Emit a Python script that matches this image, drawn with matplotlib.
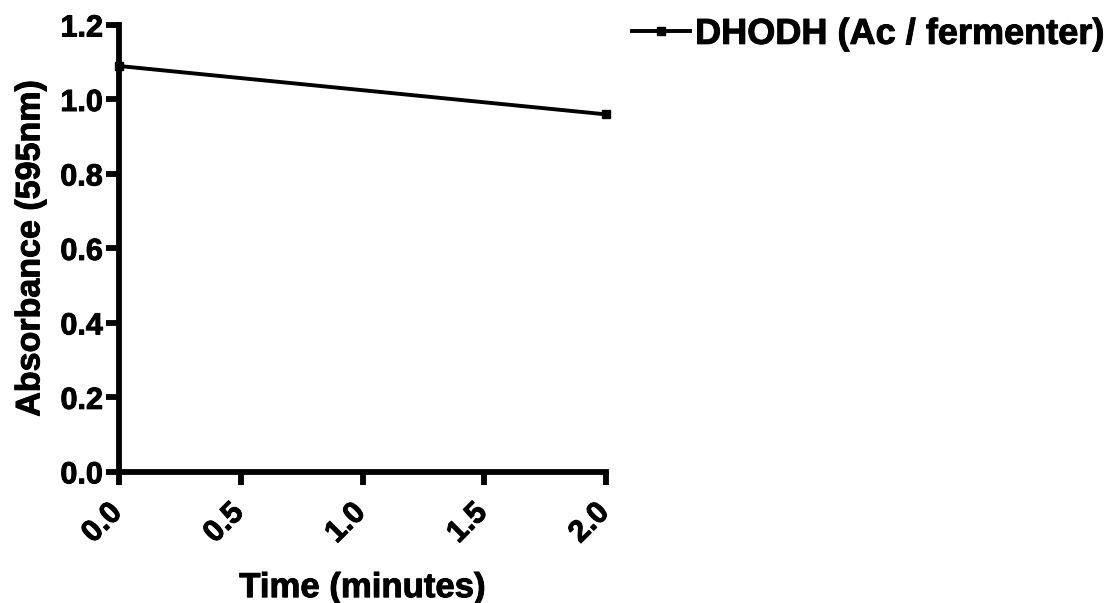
import matplotlib
matplotlib.use("Agg")
import matplotlib.pyplot as plt
import matplotlib.transforms as mtransforms
import matplotlib.patheffects as pe

# Absorbance readings over time
time_min = [0.0, 2.0]
absorbance = [1.09, 0.96]
series_label = "DHODH (Ac / fermenter)"
x_ticks = [0.0, 0.5, 1.0, 1.5, 2.0]
y_ticks = [0.0, 0.2, 0.4, 0.6, 0.8, 1.0, 1.2]

plt.rcParams["font.family"] = ["Liberation Sans", "DejaVu Sans"]
plt.rcParams["font.weight"] = "bold"

heavy = [pe.withStroke(linewidth=0.7, foreground="black")]

fig = plt.figure(figsize=(11.13, 6.03), dpi=100)
ax = fig.add_axes([0.1069, 0.2175, 0.4376, 0.7410])

ax.plot(time_min, absorbance, color="black", lw=2.8, marker="s",
        markersize=6, label=series_label, clip_on=False, zorder=5)

ax.set_xlim(0, 2.0)
ax.set_ylim(0, 1.2)
ax.set_xticks(x_ticks)
ax.set_yticks(y_ticks)
ax.set_xticklabels([f"{v:.1f}" for v in x_ticks], rotation=45,
                   ha="right", va="top", rotation_mode="anchor")
ax.set_yticklabels([f"{v:.1f}" for v in y_ticks])

for side in ("top", "right"):
    ax.spines[side].set_visible(False)
for side in ("left", "bottom"):
    ax.spines[side].set_linewidth(4.2)
    ax.spines[side].set_capstyle("projecting")

ax.tick_params(axis="both", direction="out", length=9.5, width=4.2,
               labelsize=22, pad=2)
ax.tick_params(axis="x", pad=9)

# shift rotated x tick labels so they sit left-under each tick
shift = mtransforms.ScaledTranslation(-12 / 100, 0, fig.dpi_scale_trans)
for lbl in ax.get_xticklabels():
    lbl.set_transform(lbl.get_transform() + shift)
for lbl in ax.get_xticklabels() + ax.get_yticklabels():
    lbl.set_path_effects(heavy)

ax.set_xlabel("Time (minutes)", fontsize=25, fontweight="bold", labelpad=16,
              path_effects=heavy)
ax.set_ylabel("Absorbance (595nm)", fontsize=24.5, fontweight="bold",
              labelpad=10, path_effects=heavy)

leg = ax.legend(loc="upper left", bbox_to_anchor=(0.558, 0.99),
                bbox_transform=fig.transFigure, frameon=False,
                fontsize=26, handlelength=1.6, handletextpad=0.15,
                borderaxespad=0.0, borderpad=0.3)
for t in leg.get_texts():
    t.set_fontweight("bold")
    t.set_path_effects(heavy)

fig.savefig("out.png", dpi=100)
